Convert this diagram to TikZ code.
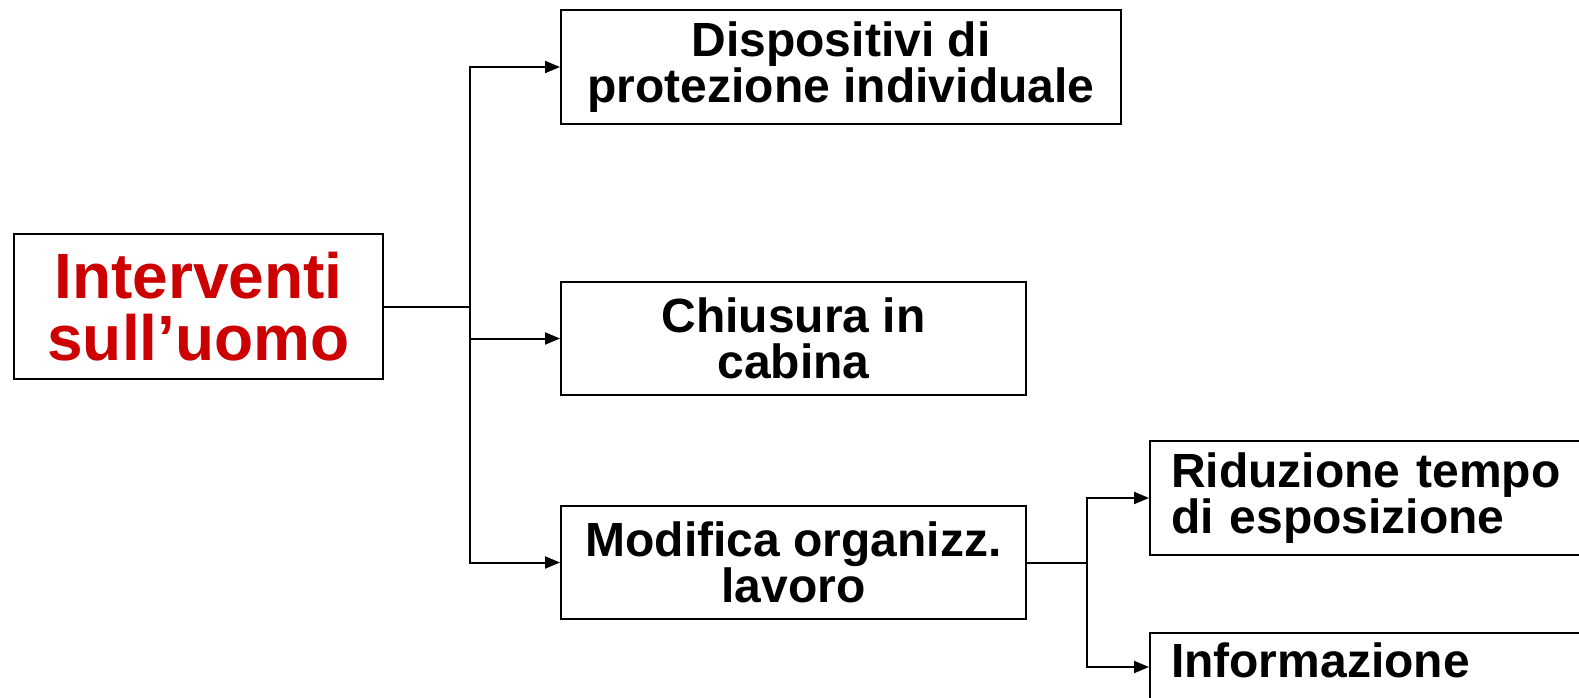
\documentclass[tikz,border=0pt]{standalone}
\usepackage{fontspec}
\setmainfont{Liberation Sans}
\usetikzlibrary{arrows.meta,calc}
\definecolor{titlered}{HTML}{CC0000}
\tikzset{
  box/.style={draw=black, line width=2pt, fill=white, anchor=north west, inner sep=0pt,
    font=\bfseries\fontsize{48}{46}\selectfont, align=center},
  conn/.style={line width=2pt},
  arr/.style={line width=2pt, -{Triangle[length=15pt,width=12pt]}},
}
\begin{document}
\begin{tikzpicture}[x=1pt,y=-1pt]
\useasboundingbox (0,0) rectangle (1579,697);
\clip (0,0) rectangle (1579,697);
\node[box, minimum width=369pt, minimum height=145pt, text=titlered,
      font=\bfseries\fontsize{64}{62}\selectfont] (main) at (13,233) {Interventi\\sull’uomo};
\node[box, minimum width=560pt, minimum height=114pt] (box1) at (560,9) {Dispositivi di\\protezione individuale};
\node[box, minimum width=465pt, minimum height=113pt] (box2) at (560,281) {Chiusura in\\cabina};
\node[box, minimum width=465pt, minimum height=113pt] (box3) at (560,505) {Modifica organizz.\\lavoro};
\node[box, minimum width=460pt, minimum height=114pt, text width=418pt, align=left, inner xsep=21pt] (box4) at (1149,440) {Riduzione tempo\\di esposizione};
\node[box, minimum width=460pt, minimum height=114pt, text width=418pt, align=left, inner xsep=21pt] (box5) at (1149,632) {Informazione\\\strut};
\coordinate (j1) at (470,0);
\coordinate (j2) at (1087,0);
\coordinate (b5in) at ($(box5.north west)+(0,35)$);
\draw[conn] (main.east) -- (main.east -| j1);
\draw[arr] (main.east -| j1) |- (box1.west);
\draw[arr] (main.east -| j1) |- (box2.west);
\draw[arr] (main.east -| j1) |- (box3.west);
\draw[conn] (box3.east) -- (box3.east -| j2);
\draw[arr] (box3.east -| j2) |- (box4.west);
\draw[arr] (box3.east -| j2) |- (b5in);
\end{tikzpicture}
\end{document}
